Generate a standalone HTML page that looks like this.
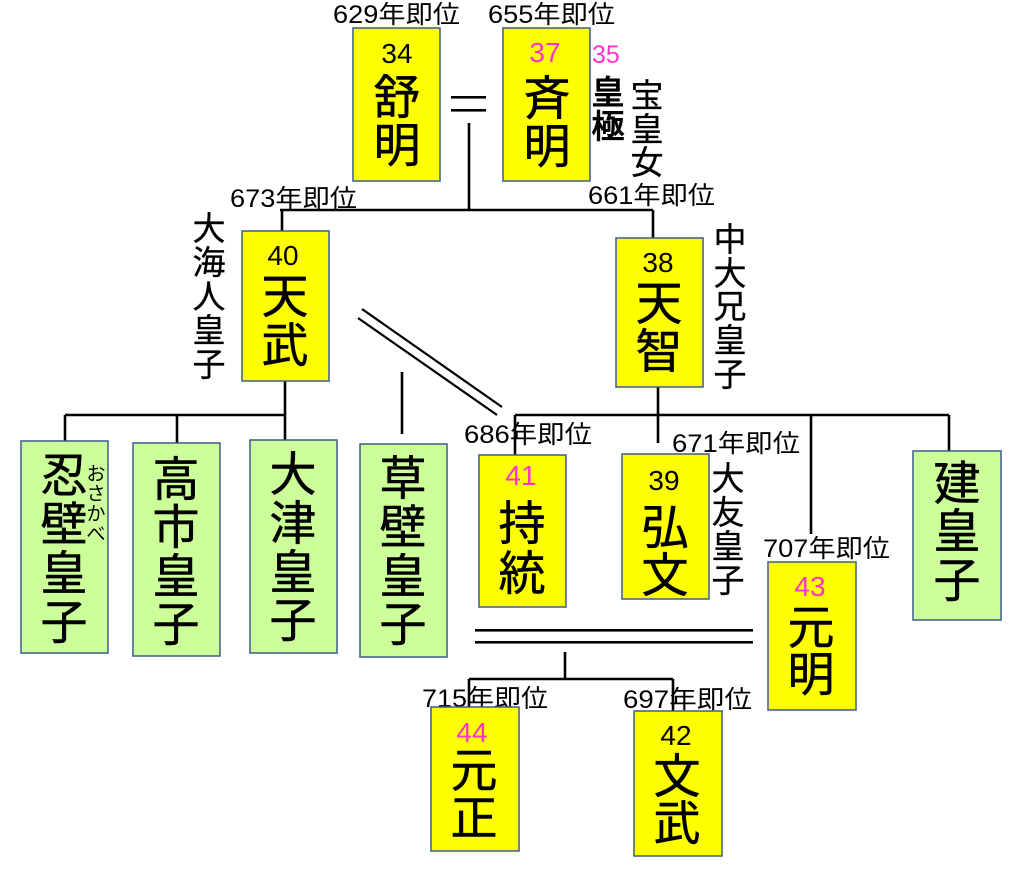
<!DOCTYPE html>
<html><head><meta charset="utf-8"><style>
html,body{margin:0;padding:0;background:#fff;}
svg{display:block;}
text{font-family:"Liberation Sans","Noto Sans CJK JP",sans-serif;fill:#000;}
.y{fill:#ffff00;stroke:#385d8a;stroke-width:1.5;}
.g{fill:#ccff99;stroke:#385d8a;stroke-width:1.5;}
.n{font-size:28px;text-anchor:middle;}
.m{fill:#ff33cc;}
.k{font-size:47px;text-anchor:middle;stroke:#000;stroke-width:0.5;}
.s{font-size:33px;text-anchor:middle;stroke:#000;stroke-width:0.3;}
.b{stroke-width:1.1;}
.yr{font-size:25px;}
.ln{stroke:#000;stroke-width:2.6;fill:none;}
.ln2{stroke:#000;stroke-width:2.2;fill:none;}
</style></head><body>
<svg width="1024" height="872" viewBox="0 0 1024 872" xmlns="http://www.w3.org/2000/svg">
<rect width="1024" height="872" fill="#fff"/>

<!-- connector lines -->
<rect x="451" y="96" width="35" height="2.6" fill="#000"/>
<rect x="451" y="109" width="35" height="2.6" fill="#000"/>
<path class="ln" d="M469 123 V210 M280 210 H653 M282 210 V231 M653 210 V238"/>
<path class="ln" d="M285 381 V415 M65 415 H285 M65 415 V441 M177 415 V443 M285 415 V440"/>
<path class="ln" d="M402 372 V434"/>
<path class="ln2" d="M362 309 L502 407 M358 318 L497 415"/>
<path class="ln" d="M658 387 V443 M515 415 H949 M515 415 V455 M811 415 V534 M949 415 V451"/>
<rect x="475" y="629" width="278" height="2.6" fill="#000"/>
<rect x="475" y="641" width="278" height="2.6" fill="#000"/>
<path class="ln" d="M565 652 V679 M469 679 H673 M469 679 V707 M673 679 V711"/>

<!-- year labels -->
<text class="yr" x="333" y="23" textLength="127" lengthAdjust="spacingAndGlyphs">629年即位</text>
<text class="yr" x="488" y="23" textLength="127" lengthAdjust="spacingAndGlyphs">655年即位</text>
<text class="yr" x="588" y="204" textLength="127" lengthAdjust="spacingAndGlyphs">661年即位</text>
<text class="yr" x="230" y="207" textLength="127" lengthAdjust="spacingAndGlyphs">673年即位</text>
<text class="yr" x="464" y="443" textLength="128" lengthAdjust="spacingAndGlyphs">686年即位</text>
<text class="yr" x="672" y="452" textLength="128" lengthAdjust="spacingAndGlyphs">671年即位</text>
<text class="yr" x="763" y="557" textLength="127" lengthAdjust="spacingAndGlyphs">707年即位</text>
<text class="yr" x="422" y="707" textLength="126" lengthAdjust="spacingAndGlyphs">715年即位</text>
<text class="yr" x="623" y="708" textLength="129" lengthAdjust="spacingAndGlyphs">697年即位</text>

<!-- 舒明 -->
<rect class="y" x="353" y="28" width="87" height="153"/>
<text class="n" x="397" y="63">34</text>
<text class="k" x="397" y="114">舒</text>
<text class="k" x="397" y="162">明</text>

<!-- 斉明 -->
<rect class="y" x="503" y="28" width="87" height="153"/>
<text class="n m" x="545" y="62">37</text>
<text class="k" x="547" y="115">斉</text>
<text class="k" x="547" y="163">明</text>
<text class="m" x="592" y="63" style="font-size:25px">35</text>
<text class="s b" x="608" y="104">皇</text>
<text class="s b" x="608" y="138">極</text>
<text class="s" x="647" y="107">宝</text>
<text class="s" x="647" y="141">皇</text>
<text class="s" x="647" y="174">女</text>

<!-- 天武 -->
<rect class="y" x="242" y="231" width="87" height="150"/>
<text class="n" x="283" y="265">40</text>
<text class="k" x="285" y="313">天</text>
<text class="k" x="285" y="362">武</text>
<text class="s" x="209" y="240">大</text>
<text class="s" x="209" y="274">海</text>
<text class="s" x="209" y="308">人</text>
<text class="s" x="209" y="342">皇</text>
<text class="s" x="209" y="376">子</text>

<!-- 天智 -->
<rect class="y" x="616" y="238" width="87" height="149"/>
<text class="n" x="658" y="272">38</text>
<text class="k" x="659" y="320">天</text>
<text class="k" x="659" y="368">智</text>
<text class="s" x="730" y="251">中</text>
<text class="s" x="730" y="285">大</text>
<text class="s" x="730" y="318">兄</text>
<text class="s" x="730" y="352">皇</text>
<text class="s" x="730" y="386">子</text>

<!-- 忍壁皇子 -->
<rect class="g" x="21" y="441" width="87" height="212"/>
<text class="k" x="64" y="492">忍</text>
<text class="k" x="64" y="541">壁</text>
<text class="k" x="64" y="590">皇</text>
<text class="k" x="64" y="639">子</text>
<text x="96" y="480" style="font-size:19px;text-anchor:middle">お</text>
<text x="96" y="500" style="font-size:19px;text-anchor:middle">さ</text>
<text x="96" y="520" style="font-size:19px;text-anchor:middle">か</text>
<text x="96" y="540" style="font-size:19px;text-anchor:middle">べ</text>

<!-- 高市皇子 -->
<rect class="g" x="133" y="443" width="87" height="213"/>
<text class="k" x="176" y="496">高</text>
<text class="k" x="176" y="544">市</text>
<text class="k" x="176" y="593">皇</text>
<text class="k" x="176" y="641">子</text>

<!-- 大津皇子 -->
<rect class="g" x="250" y="440" width="87" height="213"/>
<text class="k" x="293" y="491">大</text>
<text class="k" x="293" y="540">津</text>
<text class="k" x="293" y="589">皇</text>
<text class="k" x="293" y="637">子</text>

<!-- 草壁皇子 -->
<rect class="g" x="360" y="444" width="87" height="213"/>
<text class="k" x="403" y="495">草</text>
<text class="k" x="403" y="544">壁</text>
<text class="k" x="403" y="593">皇</text>
<text class="k" x="403" y="641">子</text>

<!-- 持統 -->
<rect class="y" x="479" y="455" width="87" height="152"/>
<text class="n m" x="521" y="485">41</text>
<text class="k" x="522" y="540">持</text>
<text class="k" x="522" y="590">統</text>

<!-- 弘文 -->
<rect class="y" x="622" y="454" width="87" height="145"/>
<text class="n" x="664" y="490">39</text>
<text class="k" x="665" y="544">弘</text>
<text class="k" x="665" y="592">文</text>
<text class="s" x="728" y="490">大</text>
<text class="s" x="728" y="524">友</text>
<text class="s" x="728" y="558">皇</text>
<text class="s" x="728" y="592">子</text>

<!-- 元明 -->
<rect class="y" x="768" y="562" width="88" height="148"/>
<text class="n m" x="810" y="596">43</text>
<text class="k" x="811" y="644">元</text>
<text class="k" x="811" y="691">明</text>

<!-- 建皇子 -->
<rect class="g" x="913" y="451" width="88" height="169"/>
<text class="k" x="957" y="500">建</text>
<text class="k" x="957" y="548">皇</text>
<text class="k" x="957" y="597">子</text>

<!-- 元正 -->
<rect class="y" x="431" y="707" width="88" height="144"/>
<text class="n m" x="472" y="742">44</text>
<text class="k" x="474" y="787">元</text>
<text class="k" x="474" y="835">正</text>

<!-- 文武 -->
<rect class="y" x="634" y="711" width="88" height="145"/>
<text class="n" x="676" y="745">42</text>
<text class="k" x="677" y="793">文</text>
<text class="k" x="677" y="840">武</text>
</svg>
</body></html>
